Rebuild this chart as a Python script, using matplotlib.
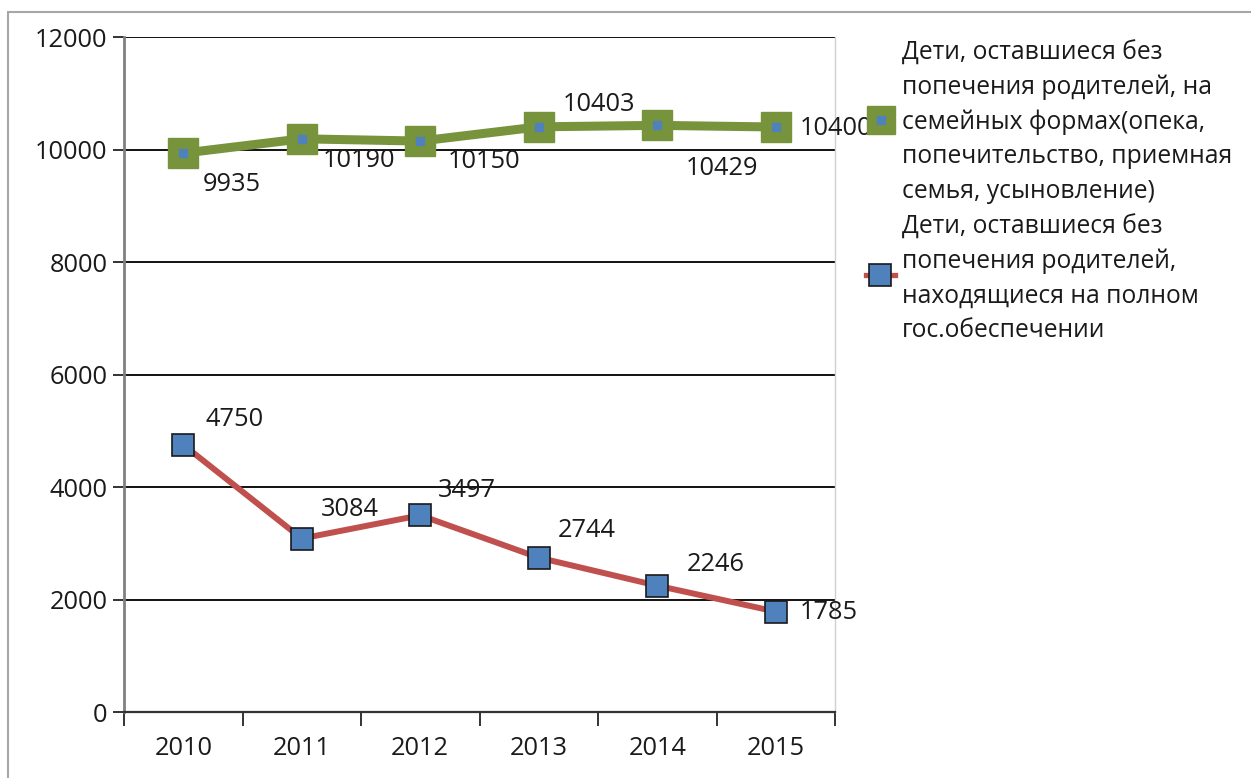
import numpy as np
import matplotlib
matplotlib.use('Agg')
import matplotlib.pyplot as plt
from matplotlib.lines import Line2D
from matplotlib.patches import Rectangle

plt.rcParams['font.family'] = ['Open Sans', 'DejaVu Sans']

# =============================================================================
# DATA
# =============================================================================

years = ['2010', '2011', '2012', '2013', '2014', '2015']
family = [9935, 10190, 10150, 10403, 10429, 10400]
state = [4750, 3084, 3497, 2744, 2246, 1785]

label_family = ('Дети, оставшиеся без\nпопечения родителей, на\n'
                'семейных формах(опека,\nпопечительство, приемная\n'
                'семья, усыновление)')
label_state = ('Дети, оставшиеся без\nпопечения родителей,\n'
               'находящиеся на полном\nгос.обеспечении')

# label offsets in pixels (dx, dy up)
off_family = [(20, -31), (21, -22), (27, -20), (24, 22), (29, -43), (24, -1)]
off_state = [(22, 25), (19, 29), (18, 25), (19, 27), (29, 21), (24, -1)]

# =============================================================================
# PLOT
# =============================================================================

green = '#77933C'
blue = '#4F81BD'
red = '#C0504D'
fs = 18.3
fs_leg = 17.7
W, H = 1251, 778

fig = plt.figure(figsize=(W/100, H/100), dpi=100)
ax = fig.add_axes([124/W, 1-712/H, (835-124)/W, (712-37)/H])

x = np.arange(len(years))

ax.plot(x, family, color=green, lw=6.5, marker='s', ms=22, mfc=green,
        mec=green, zorder=4, solid_joinstyle='round')
ax.plot(x, family, ls='none', marker='s', ms=5.5, mfc=blue, mec=blue, zorder=5)
ax.plot(x, state, color=red, lw=4.3, marker='s', ms=16, mfc=blue,
        mec='#1a1a1a', mew=1.2, zorder=4)

px = 0.72
for xi, v, (dx, dy) in zip(x, family, off_family):
    ax.annotate(str(v), (xi, v), xytext=(dx*px, dy*px), textcoords='offset points',
                ha='left', va='center', fontsize=fs, color='#1a1a1a', zorder=6)
for xi, v, (dx, dy) in zip(x, state, off_state):
    ax.annotate(str(v), (xi, v), xytext=(dx*px, dy*px), textcoords='offset points',
                ha='left', va='center', fontsize=fs, color='#1a1a1a', zorder=6)

# =============================================================================
# CUSTOM
# =============================================================================

ax.set_xlim(-0.5, 5.5)
ax.set_ylim(0, 12000)
ax.set_yticks(np.arange(0, 12001, 2000))
ax.yaxis.grid(True, color='#111111', lw=1.4)
ax.set_axisbelow(True)
ax.set_xticks(x)
ax.set_xticklabels(years)
ax.set_xticks(np.arange(-0.5, 5.6, 1), minor=True)
ax.tick_params(axis='x', which='major', length=0, labelsize=fs, pad=17, colors='#1a1a1a')
ax.tick_params(axis='x', which='minor', length=10, width=1.4, color='#333333')
ax.tick_params(axis='y', which='major', length=8, width=1.4, color='#333333',
               labelsize=fs, pad=4, labelcolor='#1a1a1a')

ax.spines['top'].set_visible(False)
ax.spines['left'].set_color('#808080')
ax.spines['left'].set_linewidth(2)
ax.spines['bottom'].set_color('#333333')
ax.spines['bottom'].set_linewidth(1.6)
ax.spines['right'].set_color('#d0d0d0')
ax.spines['right'].set_linewidth(1)

# legend, drawn by hand in figure pixels
def fx(p):
    return p / W

def fy(p):
    return 1 - p / H

fig.add_artist(Line2D([fx(881)], [fy(120)], ls='none', marker='s', ms=20,
                      mfc=green, mec=green))
fig.add_artist(Line2D([fx(881)], [fy(120)], ls='none', marker='s', ms=6,
                      mfc=blue, mec=blue))
fig.add_artist(Line2D([fx(866), fx(895)], [fy(275), fy(275)], color=red, lw=3.8))
fig.add_artist(Line2D([fx(880)], [fy(275)], ls='none', marker='s', ms=15.5,
                      mfc=blue, mec='#1a1a1a', mew=1.2))
fig.text(fx(902), fy(122), label_family, ha='left', va='center',
         fontsize=fs_leg, linespacing=1.48, color='#1a1a1a')
fig.text(fx(902), fy(278.5), label_state, ha='left', va='center',
         fontsize=fs_leg, linespacing=1.48, color='#1a1a1a')

fig.patches.append(Rectangle((8/W, -0.1), 1.2, 1-12/H+0.1,
                             transform=fig.transFigure, fill=False,
                             ec='#a6a6a6', lw=1.5))

# =============================================================================
# OUT
# =============================================================================

plt.savefig('out.png', dpi=100)
